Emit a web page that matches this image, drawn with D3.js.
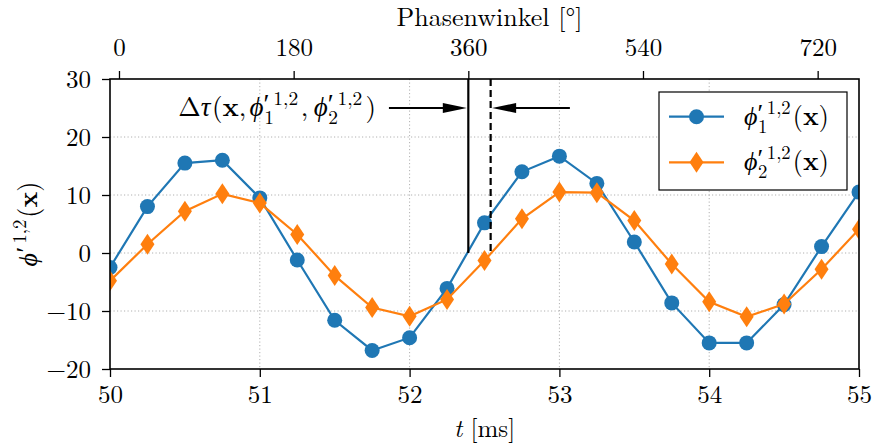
<!DOCTYPE html>
<html><head><meta charset="utf-8">
<script src="https://cdn.jsdelivr.net/npm/d3@7"></script>
<style>
html,body{margin:0;padding:0;background:#fff;}
svg{display:block;}
text{fill:#000;}
</style></head>
<body>
<svg id="chart" width="875" height="445"></svg>
<script>
// ---- data ----
const timesMs = [50.00, 50.25, 50.50, 50.75, 51.00, 51.25, 51.50, 51.75, 52.00, 52.25, 52.50,
                 52.75, 53.00, 53.25, 53.50, 53.75, 54.00, 54.25, 54.50, 54.75, 55.00];
const phi1 = [-2.5, 8.0, 15.5, 16.0, 9.5, -1.2, -11.6, -16.8, -14.6, -6.1, 5.2,
              14.0, 16.7, 12.0, 1.9, -8.6, -15.5, -15.5, -8.9, 1.1, 10.5];
const phi2 = [-4.8, 1.5, 7.2, 10.2, 8.6, 3.2, -3.9, -9.4, -10.9, -8.0, -1.3,
              5.9, 10.5, 10.4, 5.6, -1.9, -8.4, -11.0, -8.8, -2.8, 4.1];
const xTicks = [50, 51, 52, 53, 54, 55];
const yTicks = [-20, -10, 0, 10, 20, 30];
const phaseTicks = [0, 180, 360, 540, 720];
const phaseZeroMs = 50.06;   // time at phase 0°
const periodMs = 2.332;      // time for 360°
const tau1 = 52.392, tau2 = 52.541;  // zero crossings
const arrowY = 25;
const arrowLeftStart = 51.862, arrowRightStart = 53.07;
const annotStart = 50.455;
const xDomain = [50, 55], yDomain = [-20, 30];

// ---- layout ----
const W = 875, H = 445;
const m = {left: 110, right: 16, top: 79, bottom: 76};
const pw = W - m.left - m.right, ph = H - m.top - m.bottom;
const F = 25, FM = 26;
const blue = "#1f77b4", orange = "#ff7f0e";
const SERIF = "font-family:'Latin Modern Roman','Liberation Serif',serif";

const svg = d3.select("#chart");
const g = svg.append("g").attr("transform", `translate(${m.left},${m.top})`);

const x = d3.scaleLinear().domain(xDomain).range([0, pw]);
const y = d3.scaleLinear().domain(yDomain).range([ph, 0]);
const phaseOf = t => (t - phaseZeroMs) / periodMs * 360;
const xp = d3.scaleLinear().domain(xDomain.map(phaseOf)).range([0, pw]);

svg.append("defs").append("clipPath").attr("id", "clip")
  .append("rect").attr("width", pw).attr("height", ph);

// grid
const grid = g.append("g");
grid.selectAll("line.gx").data(xTicks.filter(d => d > xDomain[0] && d < xDomain[1])).join("line")
  .attr("class","gx")
  .attr("x1", d => x(d)).attr("x2", d => x(d)).attr("y1", 0).attr("y2", ph);
grid.selectAll("line.gy").data(yTicks.filter(d => d > yDomain[0] && d < yDomain[1])).join("line")
  .attr("class","gy")
  .attr("x1", 0).attr("x2", pw).attr("y1", d => y(d)).attr("y2", d => y(d));
grid.selectAll("line").attr("stroke", "#b0b0b0").attr("stroke-width", 1)
  .attr("stroke-dasharray", "1.2,2.3");

// axes
const fmt = d => d < 0 ? "\u2212" + Math.abs(d) : String(d);
const axB = g.append("g").attr("transform", `translate(0,${ph})`)
  .call(d3.axisBottom(x).tickValues(xTicks).tickFormat(fmt).tickSize(8).tickPadding(8));
const axL = g.append("g")
  .call(d3.axisLeft(y).tickValues(yTicks).tickFormat(fmt).tickSize(8).tickPadding(11));
const axT = g.append("g")
  .call(d3.axisTop(xp).tickValues(phaseTicks).tickFormat(fmt).tickSize(8).tickPadding(15));
[axB, axL, axT].forEach(a => {
  a.attr("font-family", null).attr("font-size", null);
  a.select(".domain").remove();
  a.selectAll(".tick line").attr("stroke", "#000").attr("stroke-width", 1.3);
  a.selectAll(".tick text").attr("font-size", F).attr("style", SERIF);
});

// data
const plot = g.append("g").attr("clip-path", "url(#clip)");
const line = d3.line().x((d, i) => x(timesMs[i])).y(d => y(d));
plot.append("path").datum(phi1).attr("d", line).attr("fill", "none")
  .attr("stroke", blue).attr("stroke-width", 2.2);
plot.selectAll("circle.p1").data(phi1).join("circle")
  .attr("cx", (d, i) => x(timesMs[i])).attr("cy", d => y(d)).attr("r", 7.5).attr("fill", blue);
plot.append("path").datum(phi2).attr("d", line).attr("fill", "none")
  .attr("stroke", orange).attr("stroke-width", 2.2);
const diamond = (cx, cy) => `M${cx},${cy-10.5}L${cx+7},${cy}L${cx},${cy+10.5}L${cx-7},${cy}Z`;
plot.selectAll("path.p2").data(phi2).join("path").attr("class","p2")
  .attr("d", (d, i) => diamond(x(timesMs[i]), y(d))).attr("fill", orange);

// vertical markers
g.append("line").attr("x1", x(tau1)).attr("x2", x(tau1)).attr("y1", y(yDomain[1])).attr("y2", y(0))
  .attr("stroke", "#000").attr("stroke-width", 2.2);
g.append("line").attr("x1", x(tau2)).attr("x2", x(tau2)).attr("y1", y(yDomain[1])).attr("y2", y(0))
  .attr("stroke", "#000").attr("stroke-width", 2.2).attr("stroke-dasharray", "7,4");

// arrows
function arrow(x0, x1, yy) {
  const dir = Math.sign(x1 - x0), L = 24, hw = 5;
  g.append("line").attr("x1", x0).attr("x2", x1 - dir * L * 0.6).attr("y1", yy).attr("y2", yy)
    .attr("stroke", "#000").attr("stroke-width", 2);
  g.append("path").attr("d", `M${x1},${yy}L${x1 - dir*L},${yy-hw}L${x1 - dir*L},${yy+hw}Z`).attr("fill", "#000");
}
arrow(x(arrowLeftStart), x(tau1) - 1.5, y(arrowY));
arrow(x(arrowRightStart), x(tau2) + 1.5, y(arrowY));

// math text helper
function mathText(parent, xx, yy, parts, size, anchor) {
  const t = parent.append("text").attr("x", xx).attr("y", yy).attr("font-size", size)
    .attr("text-anchor", anchor || "start").attr("style", SERIF);
  let cur = 0;
  parts.forEach(p => {
    const off = (p.off || 0) * size;
    const ts = t.append("tspan").text(p.t)
      .attr("font-size", (p.s || 1) * size)
      .attr("dy", off - cur);
    if (p.dx) ts.attr("dx", p.dx * size);
    if (p.it) ts.attr("font-style", "italic");
    if (p.b) ts.attr("font-weight", "bold");
    cur = off;
  });
  return t;
}
const phiSub = k => [
  {t: "\u03D5", it: true},
  {t: String(k), s: 0.72, off: 0.3, dx: 0.02},
  {t: "\u2032", s: 1.0, off: -0.12, dx: -0.38},
  {t: "1,2", s: 0.72, off: -0.42, dx: 0.14}
];
const argX = [{t: "(", dx: 0.08}, {t: "x", b: true}, {t: ")"}];

// annotation
mathText(g, x(annotStart), y(arrowY) + 8, [
  {t: "\u0394"}, {t: "\u03C4", it: true}, {t: "(", dx: 0.06}, {t: "x", b: true}, {t: ","},
  {t: "\u03D5", it: true, dx: 0.12}, ...phiSub(1).slice(1), {t: ",", dx: 0.1},
  {t: "\u03D5", it: true, dx: 0.2}, ...phiSub(2).slice(1), {t: ")", dx: 0.12}
], FM + 1);

// legend
const lg = g.append("g");
const lx = 549, ly = 13, lw = 188, lh = 98;
lg.append("rect").attr("x", lx).attr("y", ly).attr("width", lw).attr("height", lh)
  .attr("fill", "#fff").attr("stroke", "#000").attr("stroke-width", 1.2);
const entries = [{c: blue, k: 1, m: "c"}, {c: orange, k: 2, m: "d"}];
entries.forEach((e, i) => {
  const yy = ly + 24.7 + i * 45.6;
  lg.append("line").attr("x1", lx + 10).attr("x2", lx + 65).attr("y1", yy).attr("y2", yy)
    .attr("stroke", e.c).attr("stroke-width", 2.2);
  if (e.m === "c") lg.append("circle").attr("cx", lx + 37.5).attr("cy", yy).attr("r", 7.5).attr("fill", e.c);
  else lg.append("path").attr("d", diamond(lx + 37.5, yy)).attr("fill", e.c);
  mathText(lg, lx + 85, yy + 8, [...phiSub(e.k), ...argX], FM);
});

// frame
g.append("rect").attr("width", pw).attr("height", ph).attr("fill", "none")
  .attr("stroke", "#000").attr("stroke-width", 1.6);

// axis labels
mathText(svg, m.left + pw / 2, 437, [{t: "t", it: true}, {t: " [ms]"}], F, "middle");
svg.append("text").attr("x", m.left + pw / 2 + 5).attr("y", 26).attr("font-size", 26)
  .attr("style", SERIF).attr("text-anchor", "middle").text("Phasenwinkel [\u00B0]");
const yl = mathText(svg, 0, 0, [
  {t: "\u03D5", it: true}, {t: "\u2032", s: 1.0, off: -0.12, dx: 0.02},
  {t: "1,2", s: 0.72, off: -0.42, dx: 0.12}, ...argX
], FM, "middle");
yl.attr("transform", `translate(37,${m.top + ph / 2}) rotate(-90)`);
</script>
</body></html>
